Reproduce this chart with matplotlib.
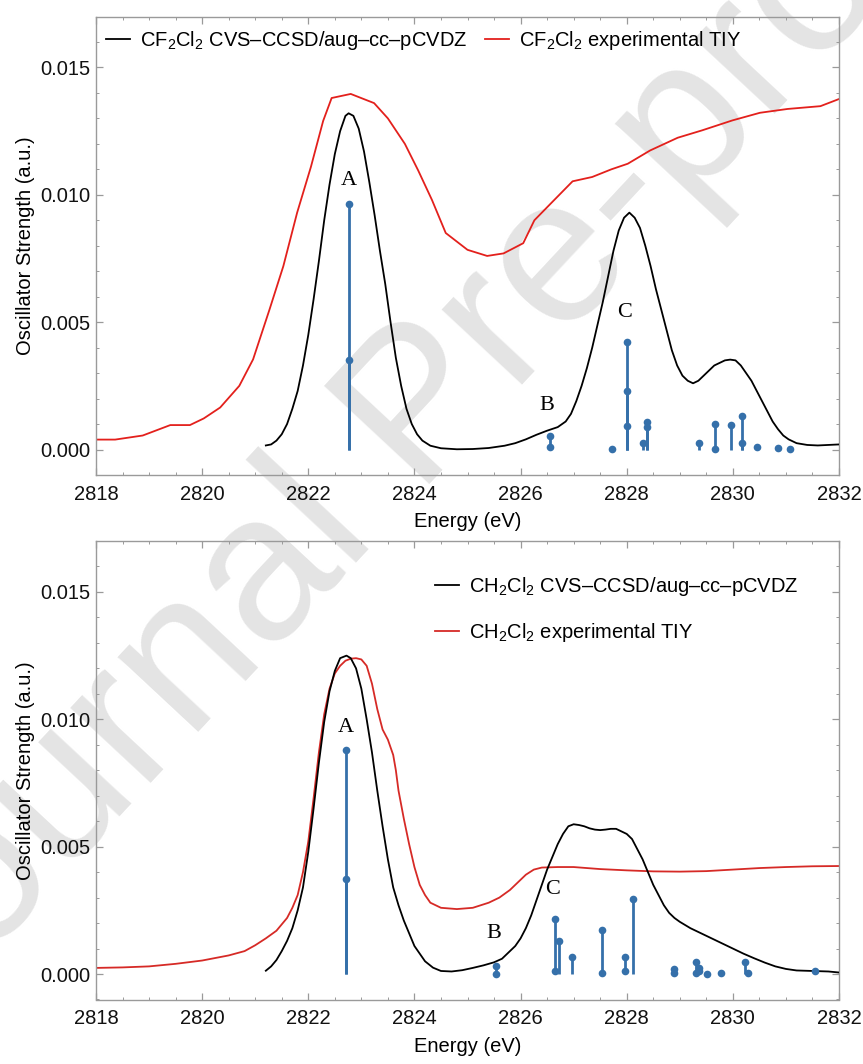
#!/usr/bin/env python3
"""
Cl K-edge spectra: CVS-CCSD/aug-cc-pCVDZ stick + broadened spectra
against experimental TIY, for CF2Cl2 (top) and CH2Cl2 (bottom).
"""
import matplotlib
matplotlib.use('Agg')
import matplotlib.pyplot as plt
from matplotlib.ticker import MultipleLocator, FormatStrFormatter

# ---- CF2Cl2 -------------------------------------------------------------
cf_calc_e = [2821.2, 2821.3, 2821.4, 2821.5, 2821.6, 2821.7, 2821.8, 2821.9,
             2822.0, 2822.1, 2822.2, 2822.3, 2822.4, 2822.5, 2822.6, 2822.7,
             2822.76, 2822.85, 2822.95, 2823.05, 2823.15, 2823.25, 2823.35,
             2823.45, 2823.55, 2823.65, 2823.75, 2823.85, 2823.95, 2824.05,
             2824.15, 2824.3, 2824.5, 2824.8, 2825.1, 2825.4, 2825.7, 2825.9,
             2826.1, 2826.3, 2826.5, 2826.7, 2826.85, 2826.95, 2827.05,
             2827.15, 2827.25, 2827.35, 2827.45, 2827.55, 2827.65, 2827.75,
             2827.85, 2827.95, 2828.05, 2828.15, 2828.25, 2828.35, 2828.45,
             2828.55, 2828.65, 2828.75, 2828.85, 2828.95, 2829.05, 2829.15,
             2829.25, 2829.35, 2829.45, 2829.55, 2829.65, 2829.75, 2829.85,
             2829.95, 2830.05, 2830.15, 2830.25, 2830.35, 2830.45, 2830.55,
             2830.65, 2830.75, 2830.85, 2830.95, 2831.05, 2831.2, 2831.4,
             2831.6, 2832.0]
cf_calc_f = [0.00016, 0.0002, 0.00035, 0.0006, 0.001, 0.0016, 0.0023, 0.0033,
             0.0045, 0.0059, 0.0074, 0.0090, 0.0104, 0.0116, 0.0125, 0.0131,
             0.0132, 0.0131, 0.0126, 0.0117, 0.0105, 0.0092, 0.0078,
             0.0065, 0.0050, 0.0036, 0.0025, 0.0016, 0.0010, 0.0006,
             0.00035, 0.00015, 0.00005, 0.00001, 0.00002, 0.00006, 0.00015,
             0.00025, 0.0004, 0.00058, 0.00074, 0.00088, 0.0011, 0.0014,
             0.0019, 0.0025, 0.0032, 0.0040, 0.0049, 0.0058, 0.0068, 0.0078,
             0.0086, 0.0091, 0.0093, 0.0091, 0.0087, 0.0080, 0.0072,
             0.0063, 0.0055, 0.0047, 0.0039, 0.0033, 0.0029, 0.0027,
             0.0026, 0.0027, 0.0029, 0.0031, 0.0033, 0.0034, 0.0035,
             0.00353, 0.0035, 0.0033, 0.0030, 0.0027, 0.0023, 0.0019,
             0.0015, 0.0011, 0.0008, 0.00055, 0.0004, 0.00025, 0.00018,
             0.00016, 0.0002]

cf_exp_e = [2818.0, 2818.36, 2818.88, 2819.4, 2819.77, 2820.03, 2820.34,
            2820.7, 2820.96, 2821.27, 2821.53, 2821.79, 2822.05, 2822.28,
            2822.44, 2822.8, 2823.24, 2823.5, 2823.82, 2824.07, 2824.33,
            2824.59, 2825.0, 2825.37, 2825.68, 2826.05, 2826.26, 2826.57,
            2826.98, 2827.35, 2827.71, 2828.02, 2828.44, 2828.96, 2829.42,
            2829.99, 2830.51, 2831.03, 2831.65, 2832.0]
cf_exp_f = [0.00039, 0.00039, 0.00055, 0.00096, 0.00096, 0.00122, 0.00165,
            0.0025, 0.00354, 0.0055, 0.0072, 0.0093, 0.0111, 0.0129,
            0.0138, 0.01396, 0.0136, 0.0130, 0.0120, 0.01096, 0.0098,
            0.0085, 0.00784, 0.0076, 0.0077, 0.0081, 0.0090, 0.00966,
            0.01053, 0.0107, 0.0110, 0.01122, 0.01174, 0.01224, 0.01253,
            0.01292, 0.01322, 0.01337, 0.01348, 0.01376]

cf_stick_e = [2822.76, 2822.76, 2826.56, 2826.56, 2827.73, 2828.0, 2828.0,
              2828.0, 2828.31, 2828.39, 2828.39, 2829.37, 2829.67, 2829.67,
              2829.96, 2830.18, 2830.18, 2830.46, 2830.86, 2831.07]
cf_stick_f = [0.00962, 0.00353, 0.00055, 0.0001, 0.00003, 0.00421, 0.0023,
              0.00093, 0.00024, 0.0011, 0.0009, 0.00026, 0.001, 0.00001,
              0.00098, 0.0013, 0.00026, 0.0001, 0.00007, 0.00001]

# ---- CH2Cl2 -------------------------------------------------------------
ch_calc_e = [2821.2, 2821.3, 2821.4, 2821.5, 2821.6, 2821.7, 2821.8, 2821.9,
             2822.0, 2822.1, 2822.2, 2822.3, 2822.4, 2822.5, 2822.6, 2822.72,
             2822.8, 2822.9, 2823.0, 2823.1, 2823.2, 2823.3, 2823.4, 2823.5,
             2823.6, 2823.7, 2823.8, 2823.9, 2824.0, 2824.1, 2824.2, 2824.35,
             2824.5, 2824.7, 2824.9, 2825.1, 2825.3, 2825.5, 2825.65, 2825.8,
             2825.9, 2826.0, 2826.1, 2826.2, 2826.3, 2826.4, 2826.5, 2826.6,
             2826.7, 2826.8, 2826.9, 2827.0, 2827.1, 2827.2, 2827.3, 2827.4,
             2827.5, 2827.6, 2827.7, 2827.8, 2827.9, 2828.0, 2828.1, 2828.2,
             2828.3, 2828.4, 2828.5, 2828.6, 2828.7, 2828.8, 2828.9, 2829.0,
             2829.2, 2829.4, 2829.6, 2829.8, 2830.0, 2830.2, 2830.4, 2830.6,
             2830.8, 2831.0, 2831.2, 2831.5, 2831.8, 2832.0]
ch_calc_f = [0.00013, 0.0003, 0.00055, 0.0009, 0.0013, 0.0018, 0.0025, 0.0034,
             0.0048, 0.0065, 0.0083, 0.0099, 0.0111, 0.0119, 0.0124, 0.0125,
             0.0124, 0.0120, 0.0112, 0.0100, 0.0087, 0.0072, 0.0058, 0.0045,
             0.0034, 0.0027, 0.0021, 0.0016, 0.0011, 0.0008, 0.0005, 0.00025,
             0.00012, 0.0001, 0.00015, 0.00024, 0.00034, 0.00046, 0.0006,
             0.0009, 0.0011, 0.0014, 0.0018, 0.0023, 0.0029, 0.0035, 0.0041,
             0.0046, 0.0051, 0.0055, 0.0058, 0.00588, 0.00585, 0.0058,
             0.00572, 0.00567, 0.00565, 0.00567, 0.0057, 0.0057, 0.0056,
             0.0055, 0.0053, 0.0049, 0.0045, 0.0040, 0.0035, 0.0031, 0.0027,
             0.0024, 0.0022, 0.00205, 0.0018, 0.0016, 0.0014, 0.0012, 0.0010,
             0.0008, 0.00062, 0.00045, 0.0003, 0.0002, 0.00014, 0.00012,
             0.0001, 0.00006]

ch_exp_e = [2818.0, 2818.5, 2819.0, 2819.5, 2820.0, 2820.5, 2820.8, 2821.0,
            2821.2, 2821.4, 2821.6, 2821.7, 2821.8, 2821.9, 2822.0, 2822.1,
            2822.2, 2822.3, 2822.4, 2822.5, 2822.6, 2822.7, 2822.8, 2822.9,
            2823.0, 2823.1, 2823.2, 2823.3, 2823.4, 2823.5, 2823.6, 2823.65,
            2823.7, 2823.8, 2823.9, 2824.0, 2824.1, 2824.2, 2824.3, 2824.5,
            2824.8, 2825.1, 2825.4, 2825.6, 2825.8, 2825.95, 2826.1, 2826.25,
            2826.4, 2826.7, 2827.0, 2827.5, 2828.0, 2828.5, 2829.0, 2829.5,
            2830.0, 2830.5, 2831.0, 2831.5, 2832.0]
ch_exp_f = [0.00024, 0.00026, 0.0003, 0.0004, 0.00053, 0.00073, 0.0009,
            0.00113, 0.0014, 0.0017, 0.0022, 0.0026, 0.0031, 0.0040, 0.0052,
            0.0069, 0.0087, 0.0102, 0.0112, 0.0118, 0.0121, 0.0123, 0.01238,
            0.0124, 0.01235, 0.0121, 0.0114, 0.0104, 0.0096, 0.0092, 0.0086,
            0.0080, 0.0072, 0.0061, 0.0051, 0.0042, 0.0035, 0.0031, 0.0028,
            0.0026, 0.00255, 0.0026, 0.0028, 0.0030, 0.0033, 0.0036, 0.0039,
            0.0041, 0.00418, 0.0042, 0.0042, 0.00412, 0.00407, 0.00403,
            0.00402, 0.00404, 0.0041, 0.00416, 0.0042, 0.00423, 0.00424]

ch_stick_e = [2822.72, 2822.72, 2825.54, 2825.54, 2826.64, 2826.64, 2826.73,
              2826.97, 2827.53, 2827.53, 2827.97, 2827.97, 2828.11, 2828.9,
              2828.9, 2829.3, 2829.3, 2829.37, 2829.37, 2829.52, 2829.77,
              2830.23, 2830.29, 2831.55]
ch_stick_f = [0.0088, 0.00373, 0.0003, 0.0, 0.00215, 0.0001, 0.0013,
              0.00068, 0.00173, 0.00005, 0.00068, 0.0001, 0.00296, 0.00018,
              0.00005, 0.00047, 0.00005, 0.00022, 0.0001, 0.0, 0.00005,
              0.00047, 0.00003, 0.00013]

cf_labels = {'A': (2822.76, 0.01057), 'B': (2826.5, 0.00174),
             'C': (2827.96, 0.00538)}
ch_labels = {'A': (2822.7, 0.00968), 'B': (2825.5, 0.00159),
             'C': (2826.61, 0.0033)}

STICK = '#3570aa'
FRAME = '#9a9a9a'


def style_axes(ax):
    ax.set_facecolor('none')
    ax.set_xlim(2818, 2832)
    ax.set_ylim(-0.001, 0.017)
    ax.xaxis.set_major_locator(MultipleLocator(2))
    ax.xaxis.set_minor_locator(MultipleLocator(0.5))
    ax.yaxis.set_major_locator(MultipleLocator(0.005))
    ax.yaxis.set_minor_locator(MultipleLocator(0.001))
    ax.yaxis.set_major_formatter(FormatStrFormatter('%.3f'))
    ax.tick_params(which='both', direction='in', top=True, right=True,
                   color=FRAME, labelsize=14.5, labelcolor='#111111')
    ax.tick_params(which='major', length=5, width=0.9)
    ax.tick_params(which='minor', length=2.5, width=0.7)
    ax.tick_params(axis='x', which='major', pad=7)
    ax.tick_params(axis='y', which='major', pad=4)
    for s in ax.spines.values():
        s.set_color(FRAME)
        s.set_linewidth(1.0)
    ax.set_xlabel('Energy (eV)', fontsize=14.5, labelpad=6)
    ax.set_ylabel('Oscillator Strength (a.u.)', fontsize=14.5, labelpad=4)


def panel(ax, calc_e, calc_f, exp_e, exp_f, st_e, st_f, labels, mol,
          red, legend_kw):
    style_axes(ax)
    ax.plot(calc_e, calc_f, color='black', lw=1.3,
            label=mol + ' CVS\u2013CCSD/aug\u2013cc\u2013pCVDZ', zorder=3)
    ax.plot(exp_e, exp_f, color=red, lw=1.3,
            label=mol + ' experimental TIY', zorder=2)
    ax.vlines(st_e, 0, st_f, color=STICK, lw=2.0, zorder=4)
    ax.plot(st_e, st_f, 'o', color=STICK, ms=5.5, mec='none', zorder=5)
    for k, (x, y) in labels.items():
        ax.text(x, y, k, ha='center', va='center', fontsize=16,
                family='Liberation Serif', zorder=6)
    ax.legend(frameon=False, fontsize=14.5, handlelength=1.2,
              handletextpad=0.5, borderpad=0, borderaxespad=0,
              loc='upper left', **legend_kw)


def main():
    plt.rcParams['font.family'] = ['Liberation Sans', 'DejaVu Sans']
    plt.rcParams['mathtext.fontset'] = 'custom'
    plt.rcParams['mathtext.rm'] = 'Liberation Sans'
    plt.rcParams['mathtext.default'] = 'rm'

    fig = plt.figure(figsize=(8.63, 10.64), dpi=100)
    W, H = 863, 1064
    ax1 = fig.add_axes([96 / W, 1 - 475 / H, 743 / W, 458.5 / H])
    ax2 = fig.add_axes([96 / W, 1 - 999.5 / H, 743 / W, 458.5 / H])

    # watermark behind the plots
    fig.text(422 / W, 1 - 413 / H, 'Journal Pre-proof', fontsize=150,
             color='#e4e4e4', rotation=47, rotation_mode='anchor',
             ha='center', va='center', zorder=-5)

    panel(ax1, cf_calc_e, cf_calc_f, cf_exp_e, cf_exp_f,
          cf_stick_e, cf_stick_f, cf_labels, r'CF$_2$Cl$_2$', '#e3201c',
          dict(ncol=2, columnspacing=0.85,
               bbox_to_anchor=(10 / 743, 1 - 13 / 458.5)))
    panel(ax2, ch_calc_e, ch_calc_f, ch_exp_e, ch_exp_f,
          ch_stick_e, ch_stick_f, ch_labels, r'CH$_2$Cl$_2$', '#d62a26',
          dict(ncol=1, labelspacing=1.12,
               bbox_to_anchor=(339 / 743, 1 - 34 / 458.5)))

    fig.savefig('out.png', dpi=100)
    print('saved out.png')


if __name__ == '__main__':
    main()
